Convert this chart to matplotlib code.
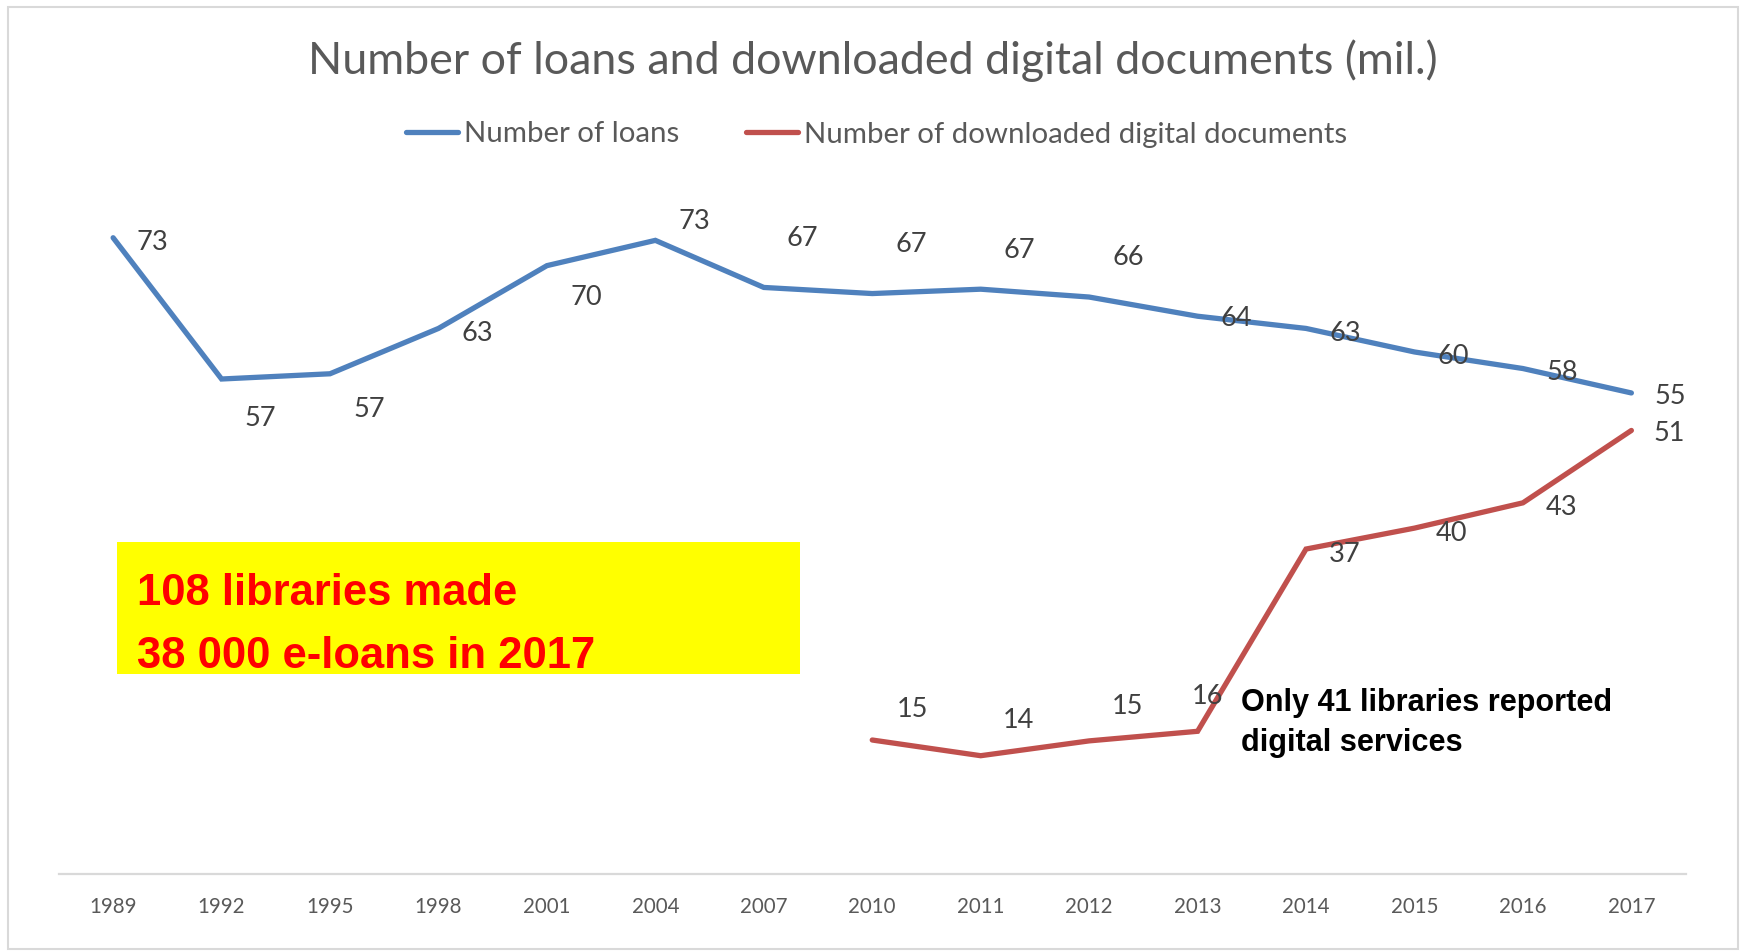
import matplotlib
matplotlib.use("Agg")
import matplotlib.pyplot as plt
from matplotlib.patches import Rectangle

# ---------------- data ----------------
years = ["1989", "1992", "1995", "1998", "2001", "2004", "2007", "2010",
         "2011", "2012", "2013", "2014", "2015", "2016", "2017"]
loans = [73.0, 56.8, 57.4, 62.6, 69.8, 72.7, 67.3, 66.6,
         67.1, 66.2, 64.0, 62.6, 59.9, 58.0, 55.2]
digital_years = ["2010", "2011", "2012", "2013", "2014", "2015", "2016", "2017"]
digital = [15.4, 13.6, 15.3, 16.4, 37.3, 39.7, 42.6, 50.9]

title = "Number of loans and downloaded digital documents (mil.)"
series_names = ["Number of loans", "Number of downloaded digital documents"]
note_yellow = ["108 libraries made", "38 000 e-loans in 2017"]
note_black = ["Only 41 libraries reported", "digital services"]

# label offsets (pixels) -- styling only
loan_dy = [2, 37, 33, 3, 29, -21, -51, -52, -41, -42, 0, 3, 2, 1, 1]
dig_dx = [40, 38, 38, 10, 39, 37, 39, 38]
dig_dy = [-33, -38, -37, -37, 3, 3, 2, 1]
LABEL_SHIFT = 2.5  # Lato sits a bit higher than Calibri

W, H = 1741, 952
DPI = 100
BLUE = "#4f81bd"
RED = "#c0504d"
GREY = "#595959"
LBL = "#404040"
FONT = ["Lato", "DejaVu Sans"]
NARROW = ["Liberation Sans Narrow", "Liberation Sans", "DejaVu Sans"]

plt.rcParams["font.family"] = FONT

fig = plt.figure(figsize=(W / DPI, H / DPI), dpi=DPI)
fig.patch.set_facecolor("white")


def fx(px):
    return px / W


def fy(py):
    return 1 - py / H


ax = fig.add_axes([fx(58.9), fy(874.3), fx(1685.6) - fx(58.9), fy(176.7) - fy(874.3)])
x_all = list(range(len(years)))
x_dig = [years.index(y) for y in digital_years]

ax.plot(x_all, loans, color=BLUE, lw=3.8, solid_capstyle="round",
        solid_joinstyle="miter", label=series_names[0])
ax.plot(x_dig, digital, color=RED, lw=3.8, solid_capstyle="round",
        solid_joinstyle="miter", label=series_names[1])

ax.set_xlim(-0.5, len(years) - 0.5)
ax.set_ylim(0, 80)
ax.set_xticks(x_all)
ax.set_xticklabels(years)
ax.set_yticks([])
for s in ["left", "right", "top"]:
    ax.spines[s].set_visible(False)
ax.spines["bottom"].set_color("#d9d9d9")
ax.spines["bottom"].set_linewidth(1.6)
ax.tick_params(axis="x", length=0, pad=16.0, labelsize=14.8, labelcolor=GREY)
ax.set_facecolor("none")

for xi, v, dy in zip(x_all, loans, loan_dy):
    ax.annotate(f"{v:.0f}", (xi, v), xytext=(39, -dy - LABEL_SHIFT),
                textcoords="offset pixels", ha="center", va="center",
                fontsize=19.5, color=LBL)
for xi, v, dx, dy in zip(x_dig, digital, dig_dx, dig_dy):
    ax.annotate(f"{v:.0f}", (xi, v), xytext=(dx, -dy - LABEL_SHIFT),
                textcoords="offset pixels", ha="center", va="center",
                fontsize=19.5, color=LBL)

renderer = fig.canvas.get_renderer()


def fit(t, target):
    w = t.get_window_extent(renderer).width
    t.set_fontsize(t.get_fontsize() * target / w)
    return t.get_fontsize()


# title
t = fig.text(fx(873.3), fy(74.5), title, ha="center", va="baseline",
             fontsize=30, color=GREY)
fit(t, 1131)

# legend
tmp = fig.text(0, 0, series_names[0], fontsize=20)
lf = fit(tmp, 215)
tmp.remove()
fpx = lf * DPI / 72
leg = fig.legend(loc="center", bbox_to_anchor=(fx(876.5), fy(134.5)), ncol=2,
                 frameon=False, fontsize=lf, handlelength=52 / fpx,
                 handletextpad=6 / fpx, columnspacing=67 / fpx, borderpad=0,
                 borderaxespad=0)
for txt in leg.get_texts():
    txt.set_color(GREY)
for ln in leg.get_lines():
    ln.set_linewidth(3.8)

# yellow note
fig.patches.append(Rectangle((fx(116.6), fy(674.0)), fx(799.5) - fx(116.6),
                             fy(541.9) - fy(674.0), transform=fig.transFigure,
                             facecolor="#ffff00", edgecolor="none", zorder=0.5))
y1 = fig.text(fx(136.6), fy(605), note_yellow[0], ha="left", va="baseline",
              fontsize=38, color="#ff0000", fontweight="bold", family=NARROW)
y2 = fig.text(fx(136.6), fy(668), note_yellow[1], ha="left", va="baseline",
              fontsize=38, color="#ff0000", fontweight="bold", family=NARROW)
s = fit(y2, 457)
y1.set_fontsize(s)

# black note
b1 = fig.text(fx(1241.4), fy(710.6), note_black[0], ha="left", va="baseline",
              fontsize=28, color="black", fontweight="bold", family=NARROW)
b2 = fig.text(fx(1241.4), fy(751), note_black[1], ha="left", va="baseline",
              fontsize=28, color="black", fontweight="bold", family=NARROW)
s = fit(b1, 371)
b2.set_fontsize(s)

# outer frame
fig.patches.append(Rectangle((fx(8), fy(949)), fx(1738) - fx(8), fy(7) - fy(949),
                             transform=fig.transFigure, fill=False,
                             edgecolor="#d9d9d9", lw=1.5))

fig.savefig("out.png", dpi=DPI)
